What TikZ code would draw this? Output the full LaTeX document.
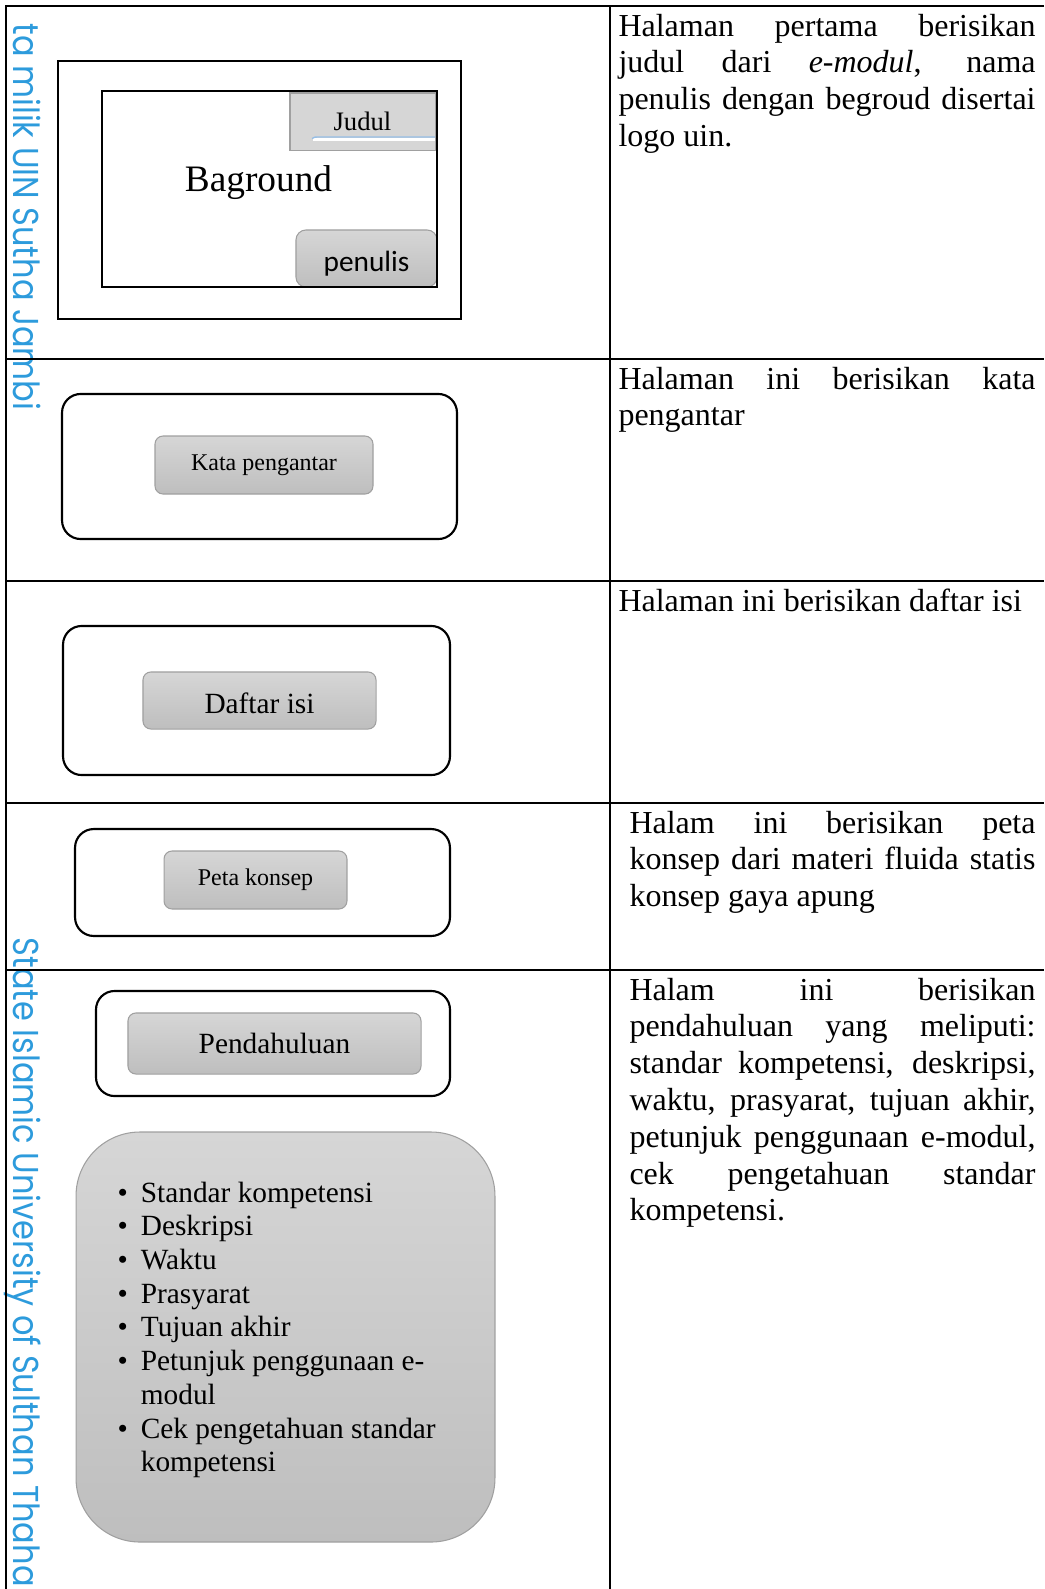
\documentclass[tikz,border=0pt]{standalone}
\usepackage{fontspec}
\setmainfont{Liberation Serif}
\newfontfamily\calibri{Carlito}
\newfontfamily\wmfont[FakeStretch=0.89]{Poppins}
\definecolor{wmblue}{RGB}{45,155,220}
\definecolor{btntop}{RGB}{214,214,214}
\definecolor{btnbot}{RGB}{190,190,190}
\definecolor{btnedge}{RGB}{160,160,160}
\definecolor{judulline}{RGB}{150,190,230}
\hyphenpenalty=10000
\exhyphenpenalty=10000

\begin{document}
\begin{tikzpicture}[x=0.375pt,y=-0.375pt,
  tabline/.style={line width=0.75pt},
  pageframe/.style={draw,line width=0.8pt,rounded corners=7pt,inner sep=0pt},
  btn/.style={draw=btnedge,line width=0.4pt,rounded corners=3pt,top color=btntop,bottom color=btnbot,inner sep=0pt},
  desc/.style={anchor=base west,inner sep=0pt,align=justify,font=\fontsize{12}{13.8}\selectfont},
  watermark/.style={text=wmblue,font=\wmfont\fontsize{13.5}{16}\selectfont,rotate=-90,inner sep=0pt}]
\useasboundingbox (0,0) rectangle (1044,1589);
\clip (0,0) rectangle (1044,1589);
%WATERMARK
\node [watermark,anchor=base east] (wmtop) at (13,411) {ta milik UIN Sutha Jambi};
\node [watermark,anchor=base west] (wmbot) at (13,937) {State Islamic University of Sulthan Thaha};
%TABLE LINES
\draw [tabline] (1044,6) -- (6,6) -- (6,1589);
\draw [tabline] (610,6) -- (610,1589);
\foreach \y in {359,581,803,970}
  \draw [tabline] (6,\y) -- (1044,\y);
%ROW 1: COVER
\node [draw,line width=1pt,minimum width=151.1pt,minimum height=96.75pt,inner sep=0pt] (coverframe) at (259.5,190) {};
\node [draw=btnedge,line width=0.4pt,fill=btntop,minimum width=54.4pt,minimum height=21.4pt,inner sep=0pt,font=\fontsize{10}{12}\selectfont] (judul) at (362.5,121.5) {Judul};
\draw [white,line width=1pt] (313,139.5) -- (435,139.5);
\draw [judulline,line width=0.5pt] (312,138.5) to [out=40,in=180] (318,137) -- (435,137);
\node [btn,rounded corners=3.75pt,minimum width=52.9pt,minimum height=21.4pt,text height=10pt,text depth=0pt,font=\calibri\fontsize{11}{13}\selectfont] (penulis) at (366.5,258.5) {penulis};
\node [draw,line width=0.75pt,minimum width=125.6pt,minimum height=73.5pt,inner sep=0pt] (coverbg) at (269.5,189) {};
\node [font=\fontsize{14}{16}\selectfont,inner sep=0pt] (baground) at (258.5,183) {Baground};
\node [desc,text width=156.4pt] (desccover) at (618,36) {Halaman pertama berisikan\linebreak judul dari \textit{e-modul}, nama\linebreak penulis dengan begroud disertai\linebreak logo uin.};
%ROW 2: KATA PENGANTAR
\node [pageframe,minimum width=148.1pt,minimum height=54.4pt] (kataframe) at (259.5,466.5) {};
\node [btn,minimum width=81.75pt,minimum height=21.75pt,font=\fontsize{9}{11}\selectfont] (katabtn) at (264,465) {Kata pengantar};
\node [desc,text width=156.4pt] (desckata) at (618,389) {Halaman ini berisikan kata\linebreak pengantar};
%ROW 3: DAFTAR ISI
\node [pageframe,minimum width=145.1pt,minimum height=55.9pt] (daftarframe) at (256.5,700.5) {};
\node [btn,minimum width=87.4pt,minimum height=21.4pt,text height=9.7pt,text depth=0pt,font=\fontsize{11}{13}\selectfont] (daftarbtn) at (259.5,700.5) {Daftar isi};
\node [desc,text width=156.4pt] (descdaftar) at (618,611) {Halaman ini berisikan daftar isi};
%ROW 4: PETA KONSEP
\node [pageframe,minimum width=140.6pt,minimum height=40.1pt] (petaframe) at (262.5,882.5) {};
\node [btn,minimum width=68.6pt,minimum height=21.75pt,font=\fontsize{9}{11}\selectfont] (petabtn) at (255.5,880) {Peta konsep};
\node [desc,text width=152.25pt] (descpeta) at (629,833) {Halam ini berisikan peta\linebreak konsep dari materi fluida statis\linebreak konsep gaya apung};
%ROW 5: PENDAHULUAN
\node [pageframe,minimum width=132.75pt,minimum height=39.4pt] (pendframe) at (273,1043.5) {};
\node [btn,minimum width=109.9pt,minimum height=22.9pt,font=\fontsize{11}{13}\selectfont] (pendbtn) at (274.5,1043.5) {Pendahuluan};
\node [btn,rounded corners=24pt,minimum width=157.1pt,minimum height=153.75pt] (pendlist) at (285.5,1337) {};
\node [anchor=base west,inner sep=0pt,font=\fontsize{11}{12.65}\selectfont] (penditems) at (117,1202) {%
  \begin{tabular}[t]{@{}l@{\hspace{4.9pt}}l@{}}
  \textbullet & Standar kompetensi\\
  \textbullet & Deskripsi\\
  \textbullet & Waktu\\
  \textbullet & Prasyarat\\
  \textbullet & Tujuan akhir\\
  \textbullet & Petunjuk penggunaan e-\\
              & modul\\
  \textbullet & Cek pengetahuan standar\\
              & kompetensi
  \end{tabular}};
\node [desc,text width=152.25pt] (descpend) at (629,1000) {Halam ini berisikan\linebreak pendahuluan yang meliputi:\linebreak standar kompetensi, deskripsi,\linebreak waktu, prasyarat, tujuan akhir,\linebreak petunjuk penggunaan e-modul,\linebreak cek pengetahuan standar\linebreak kompetensi.};
\end{tikzpicture}
\end{document}
